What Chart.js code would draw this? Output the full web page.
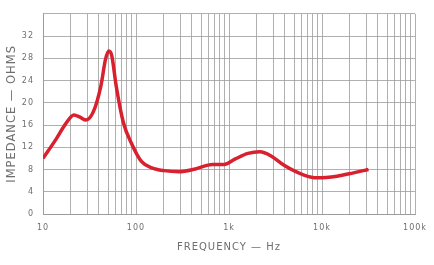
<!DOCTYPE html>
<html>
<head>
<meta charset="utf-8">
<script src="https://cdn.jsdelivr.net/npm/chart.js@4/dist/chart.umd.min.js"></script>
<style>html,body{margin:0;padding:0;background:#fff}</style>
</head>
<body>
<canvas id="chart" width="434" height="265"></canvas>
<script>
// impedance curve
const freqs = [10, 14, 17.5, 21.5, 25, 29, 35, 42, 47, 51, 55, 61, 73, 90, 115, 148, 200, 290, 435, 660, 880, 1170, 1600, 2150, 2860, 3950, 6400, 8900, 14500, 21800, 31600];
const ohms = [10.0, 13.6, 16.2, 17.8, 17.4, 16.9, 18.5, 23.1, 27.8, 29.3, 28.4, 23.2, 16.5, 12.6, 9.4, 8.3, 7.8, 7.6, 8.1, 8.9, 8.9, 9.9, 10.9, 11.2, 10.4, 8.7, 7.0, 6.5, 6.8, 7.4, 8.0];
const decadeLabels = {10: '10', 100: '100', 1000: '1k', 10000: '10k', 100000: '100k'};

const points = freqs.map((f, i) => ({x: f, y: ohms[i]}));
const textColor = '#6e6e6e';
const gridColor = '#9c9c9c';

const spacing = {
    id: 'spacing',
    beforeDraw(c) { c.ctx.letterSpacing = '1px'; },
    afterDraw(c) { c.ctx.letterSpacing = '0px'; }
};

new Chart(document.getElementById('chart'), {
    type: 'line',
    data: {
        datasets: [{
            data: points,
            borderColor: '#d8202e',
            borderWidth: 3.5,
            pointRadius: 0,
            cubicInterpolationMode: 'monotone',
            fill: false
        }, {
            data: points,
            borderColor: 'rgba(110,40,30,0.55)',
            borderWidth: 1.3,
            pointRadius: 0,
            cubicInterpolationMode: 'monotone',
            fill: false
        }]
    },
    options: {
        responsive: false,
        animation: false,
        layout: {padding: {left: 0, top: 7, right: 19, bottom: 0}},
        plugins: {legend: {display: false}, tooltip: {enabled: false}},
        scales: {
            x: {
                type: 'logarithmic',
                min: 10,
                max: 100000,
                afterBuildTicks: (scale) => {
                    const t = [];
                    for (let d = 10; d < 100000; d *= 10) {
                        for (let m = 1; m < 10; m++) t.push({value: d * m});
                    }
                    t.push({value: 100000});
                    scale.ticks = t;
                },
                afterFit: (scale) => { scale.height = 51; },
                grid: {color: gridColor, lineWidth: 0.8, drawTicks: false},
                border: {color: gridColor},
                ticks: {
                    autoSkip: false,
                    maxRotation: 0,
                    padding: 9,
                    color: textColor,
                    font: {family: 'DejaVu Sans', size: 8},
                    callback: (v) => decadeLabels[v] || ''
                },
                title: {
                    display: true,
                    text: 'FREQUENCY — Hz',
                    color: textColor,
                    font: {family: 'DejaVu Sans', size: 10},
                    padding: {top: 0, bottom: 12}
                }
            },
            y: {
                min: 0,
                max: 36,
                afterFit: (scale) => { scale.width = 43; },
                grid: {color: gridColor, lineWidth: 0.8, drawTicks: false},
                border: {color: gridColor},
                ticks: {
                    stepSize: 4,
                    padding: 9,
                    color: textColor,
                    font: {family: 'DejaVu Sans', size: 8},
                    callback: (v) => v === 36 ? '' : v
                },
                title: {
                    display: true,
                    text: 'IMPEDANCE — OHMS',
                    color: textColor,
                    font: {family: 'DejaVu Sans', size: 11.5},
                    padding: {top: 5, bottom: 0}
                }
            }
        }
    },
    plugins: [spacing]
});
</script>
</body>
</html>
